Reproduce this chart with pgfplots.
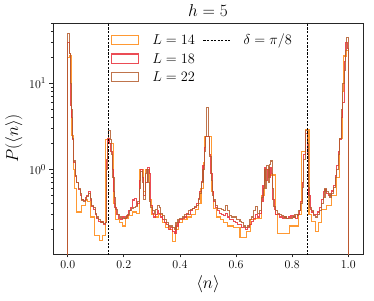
\documentclass[border=0pt]{standalone}
\usepackage{pgfplots}
\pgfplotsset{compat=1.18}
\definecolor{cOr}{RGB}{255,135,15}
\definecolor{cRe}{RGB}{232,45,55}
\definecolor{cBr}{RGB}{180,92,45}
\pgfplotsset{
  boxOr/.style={legend image code/.code={\draw[cOr, line width=1.1pt, opacity=0.85] (0bp,-4.5bp) rectangle (27bp,5bp);}},
  boxRe/.style={legend image code/.code={\draw[cRe, line width=1.1pt, opacity=0.85] (0bp,-4.5bp) rectangle (27bp,5bp);}},
  boxBr/.style={legend image code/.code={\draw[cBr, line width=1.1pt, opacity=0.85] (0bp,-4.5bp) rectangle (27bp,5bp);}},
  dashLeg/.style={legend image code/.code={\draw[black, line width=0.8pt, dash pattern=on 2.2pt off 1.4pt] (0bp,0bp) -- (27bp,0bp);}},
}
\begin{document}
\begin{tikzpicture}
\path[use as bounding box] (-53bp,-47bp) rectangle (321bp,254bp);
\begin{axis}[
  scale only axis, width=310bp, height=231bp,
  xmin=-0.0525, xmax=1.0525,
  ymode=log, ymin=0.104, ymax=50,
  axis line style={black!85, line width=0.9pt},
  tick pos=left, tick align=outside,
  major tick length=3.5bp, minor tick length=2bp,
  every tick/.style={black!85, line width=0.7pt},
  xtick={0,0.2,0.4,0.6,0.8,1.0},
  xticklabel style={/pgf/number format/.cd, fixed, fixed zerofill, precision=1},
  ticklabel style={font=\fontsize{13}{14}\selectfont},
  xlabel={$\langle n\rangle$},
  ylabel={$P(\langle n\rangle)$},
  label style={font=\fontsize{17}{19}\selectfont},
  title={$h=5$},
  title style={font=\fontsize{16}{18}\selectfont, yshift=-3bp},
  legend style={at={(0.178,0.97)}, anchor=north west, draw=none, fill=none,
    font=\fontsize{13.5}{15}\selectfont, row sep=3bp,
    /tikz/every odd column/.append style={column sep=11bp},
    /tikz/every even column/.append style={column sep=6bp}},
  legend columns=2,
  legend cell align=left,
  clip=true,
]
% L = 14
\addplot[const plot, cOr, line width=1.1pt, opacity=0.85, forget plot] coordinates {
(-0.0001,0.001) (0.000,20) (0.006,21) (0.013,2.5) (0.019,1.0) (0.025,0.6) (0.032,0.32)
(0.048,0.38) (0.062,0.44) (0.070,0.42) (0.080,0.28) (0.097,0.17) (0.113,0.15) (0.125,0.17)
(0.136,2.2) (0.150,2.0) (0.162,0.4) (0.170,0.26) (0.185,0.24) (0.195,0.22) (0.205,0.27)
(0.215,0.29) (0.230,0.32) (0.245,0.31) (0.255,1.0) (0.270,0.55) (0.278,1.0) (0.290,0.45)
(0.300,0.30) (0.312,0.28) (0.325,0.30) (0.338,0.24) (0.350,0.21) (0.362,0.20) (0.372,0.145)
(0.385,0.20) (0.395,0.24) (0.410,0.26) (0.425,0.28) (0.440,0.30) (0.455,0.34) (0.465,0.40)
(0.475,0.60) (0.483,1.2) (0.489,2.4) (0.513,0.55) (0.520,0.35) (0.530,0.28) (0.545,0.26)
(0.555,0.24) (0.570,0.22) (0.590,0.21) (0.614,0.16) (0.638,0.19) (0.650,0.26) (0.670,0.27)
(0.690,0.50) (0.700,1.0) (0.720,0.86) (0.740,0.30) (0.747,0.18) (0.790,0.22) (0.822,0.30)
(0.834,1.6) (0.846,2.9) (0.860,0.30) (0.870,0.25) (0.882,0.19) (0.893,0.24) (0.905,0.34)
(0.923,0.38) (0.940,0.50) (0.958,0.80) (0.970,2.3) (0.978,8) (0.983,20.7) (0.993,24) (1.000,0.001)
};
% L = 18
\addplot[const plot, cRe, line width=1.1pt, opacity=0.85, forget plot] coordinates {
(-0.0001,0.001) (0.000,30) (0.006,22) (0.009,5.5) (0.013,4) (0.017,2.2) (0.022,1.2) (0.027,0.82)
(0.032,0.70) (0.038,0.58) (0.044,0.50) (0.050,0.45) (0.056,0.43) (0.062,0.47) (0.068,0.50)
(0.074,0.55) (0.080,0.44) (0.086,0.37) (0.092,0.34) (0.098,0.30) (0.104,0.27) (0.110,0.25)
(0.116,0.24) (0.122,0.245) (0.128,0.23) (0.134,0.24) (0.139,1.3) (0.143,2.3) (0.148,2.0)
(0.153,1.6) (0.158,1.0) (0.163,0.55) (0.168,0.36) (0.174,0.30) (0.181,0.27) (0.188,0.26)
(0.195,0.28) (0.202,0.27) (0.209,0.29) (0.216,0.33) (0.223,0.36) (0.230,0.44) (0.237,0.46)
(0.244,0.38) (0.250,0.40) (0.256,0.75) (0.261,1.0) (0.266,0.8) (0.271,0.5) (0.277,0.7)
(0.283,1.05) (0.290,0.9) (0.295,0.38) (0.301,0.31) (0.307,0.28) (0.313,0.30) (0.319,0.33)
(0.325,0.31) (0.331,0.28) (0.337,0.26) (0.344,0.24) (0.351,0.23) (0.358,0.20) (0.365,0.21)
(0.372,0.19) (0.379,0.18) (0.386,0.22) (0.393,0.24) (0.400,0.26) (0.408,0.27) (0.415,0.28)
(0.422,0.31) (0.430,0.30) (0.437,0.33) (0.444,0.35) (0.451,0.36) (0.458,0.40) (0.465,0.46)
(0.471,0.55) (0.477,0.72) (0.482,1.1) (0.487,1.8) (0.492,2.4) (0.505,1.5) (0.510,0.9)
(0.515,0.55) (0.520,0.42) (0.527,0.36) (0.534,0.33) (0.541,0.31) (0.548,0.30) (0.555,0.29)
(0.562,0.31) (0.569,0.28) (0.576,0.26) (0.584,0.26) (0.591,0.25) (0.599,0.24) (0.606,0.23)
(0.613,0.23) (0.620,0.21) (0.627,0.21) (0.634,0.20) (0.641,0.21) (0.648,0.23) (0.655,0.25)
(0.662,0.27) (0.669,0.30) (0.676,0.28) (0.683,0.31) (0.690,0.42) (0.696,0.65) (0.701,1.05)
(0.706,0.75) (0.711,1.0) (0.716,0.8) (0.721,1.05) (0.726,0.9) (0.731,0.45) (0.736,0.34)
(0.742,0.30) (0.749,0.30) (0.756,0.28) (0.764,0.27) (0.772,0.28) (0.780,0.27) (0.788,0.28)
(0.796,0.29) (0.804,0.28) (0.812,0.27) (0.819,0.30) (0.825,0.33) (0.831,0.42) (0.837,0.70)
(0.842,1.5) (0.847,2.6) (0.855,1.5) (0.859,0.50) (0.864,0.34) (0.870,0.32) (0.877,0.30)
(0.884,0.30) (0.891,0.32) (0.898,0.36) (0.905,0.45) (0.911,0.55) (0.917,0.58) (0.923,0.52)
(0.929,0.50) (0.935,0.50) (0.941,0.56) (0.947,0.65) (0.953,0.85) (0.958,1.1) (0.964,1.6)
(0.970,2.2) (0.976,4) (0.981,6) (0.986,18) (0.991,30) (0.997,25) (1.000,0.001)
};
% L = 22
\addplot[const plot, cBr, line width=1.1pt, opacity=0.85, forget plot] coordinates {
(-0.0001,0.001) (0.000,38) (0.005,22) (0.009,10) (0.013,5) (0.017,2.3) (0.022,1.25) (0.027,0.85)
(0.032,0.70) (0.038,0.60) (0.044,0.52) (0.050,0.44) (0.056,0.42) (0.062,0.45) (0.068,0.48)
(0.074,0.53) (0.080,0.46) (0.086,0.38) (0.092,0.36) (0.098,0.31) (0.104,0.28) (0.110,0.26)
(0.116,0.245) (0.122,0.24) (0.128,0.235) (0.134,0.24) (0.139,1.0) (0.142,2.0) (0.146,2.8)
(0.151,2.2) (0.156,1.5) (0.161,0.8) (0.166,0.47) (0.171,0.34) (0.178,0.30) (0.185,0.28)
(0.192,0.27) (0.200,0.27) (0.207,0.28) (0.214,0.30) (0.221,0.33) (0.228,0.35) (0.235,0.36)
(0.242,0.37) (0.250,0.42) (0.256,0.60) (0.260,0.95) (0.265,0.70) (0.270,0.45) (0.276,0.90)
(0.281,1.0) (0.286,0.70) (0.290,0.42) (0.296,0.36) (0.302,0.33) (0.308,0.31) (0.314,0.34)
(0.320,0.38) (0.326,0.36) (0.332,0.31) (0.338,0.29) (0.345,0.26) (0.352,0.24) (0.358,0.22)
(0.365,0.22) (0.372,0.21) (0.379,0.20) (0.386,0.24) (0.393,0.26) (0.400,0.27) (0.408,0.28)
(0.415,0.30) (0.422,0.30) (0.430,0.33) (0.437,0.34) (0.444,0.35) (0.451,0.37) (0.458,0.38)
(0.465,0.45) (0.471,0.53) (0.477,0.70) (0.482,1.0) (0.487,1.6) (0.492,2.4) (0.496,5.2)
(0.501,2.4) (0.506,1.4) (0.511,0.75) (0.516,0.50) (0.521,0.44) (0.528,0.38) (0.535,0.35)
(0.542,0.35) (0.549,0.34) (0.556,0.33) (0.563,0.38) (0.570,0.33) (0.577,0.29) (0.585,0.28)
(0.592,0.28) (0.600,0.26) (0.607,0.26) (0.614,0.25) (0.621,0.24) (0.628,0.22) (0.635,0.21)
(0.642,0.22) (0.649,0.26) (0.656,0.28) (0.663,0.33) (0.670,0.37) (0.677,0.31) (0.684,0.33)
(0.691,0.47) (0.697,0.60) (0.701,1.0) (0.706,0.60) (0.710,1.1) (0.715,0.70) (0.719,1.15)
(0.724,1.25) (0.729,0.60) (0.734,0.37) (0.740,0.33) (0.747,0.31) (0.754,0.30) (0.762,0.29)
(0.770,0.28) (0.778,0.27) (0.786,0.27) (0.794,0.27) (0.802,0.28) (0.810,0.30) (0.818,0.29)
(0.824,0.33) (0.830,0.40) (0.836,0.62) (0.841,1.3) (0.847,2.8) (0.854,2.0) (0.858,0.62)
(0.863,0.36) (0.869,0.33) (0.876,0.29) (0.884,0.28) (0.891,0.30) (0.898,0.33) (0.905,0.40)
(0.911,0.47) (0.917,0.60) (0.923,0.55) (0.929,0.52) (0.935,0.47) (0.941,0.52) (0.947,0.62)
(0.953,0.80) (0.958,1.0) (0.964,1.5) (0.970,2.3) (0.976,5.0) (0.981,10) (0.986,14)
(0.991,24) (0.995,34) (1.000,0.001)
};
% delta lines
\addplot[black, line width=0.8pt, dash pattern=on 2.2pt off 1.4pt, forget plot] coordinates {(0.14645,0.01) (0.14645,100)};
\addplot[black, line width=0.8pt, dash pattern=on 2.2pt off 1.4pt, forget plot] coordinates {(0.85355,0.01) (0.85355,100)};
% legend
\addlegendimage{boxOr}
\addlegendentry{$L=14$}
\addlegendimage{dashLeg}
\addlegendentry{$\delta=\pi/8$}
\addlegendimage{boxRe}
\addlegendentry{$L=18$}
\addlegendimage{empty legend}
\addlegendentry{}
\addlegendimage{boxBr}
\addlegendentry{$L=22$}
\end{axis}
\end{tikzpicture}
\end{document}
